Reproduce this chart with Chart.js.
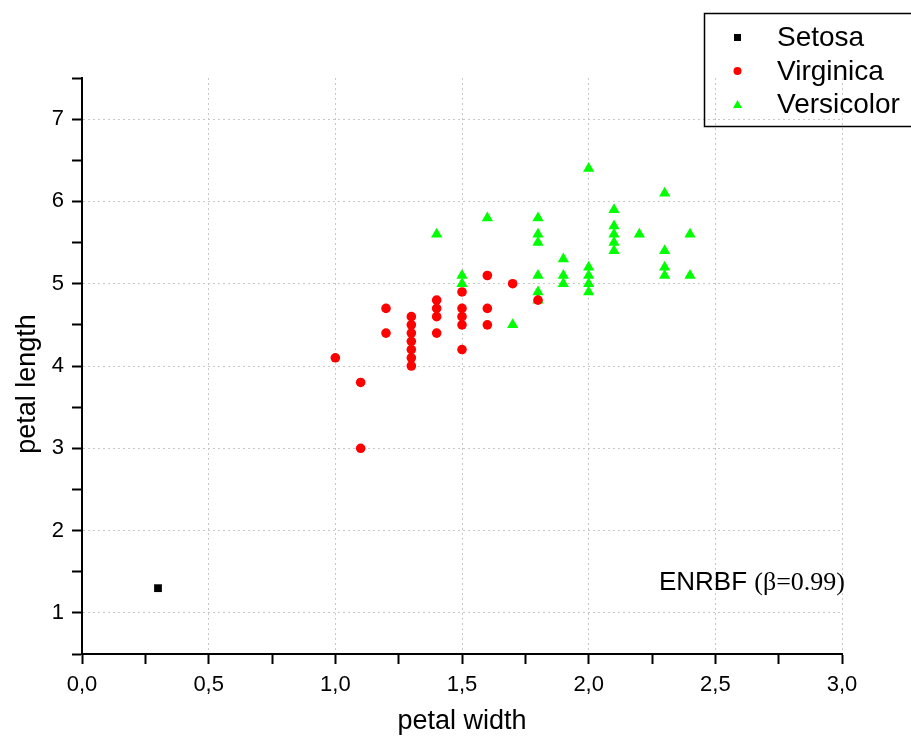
<!DOCTYPE html>
<html>
<head>
<meta charset="utf-8">
<script src="https://cdn.jsdelivr.net/npm/chart.js@4.4.0/dist/chart.umd.min.js"></script>
<style>
  html, body { margin: 0; padding: 0; background: #fff; }
  #myChart { display: block; }
</style>
</head>
<body>
<canvas id="myChart" width="911" height="740"></canvas>
<script>
// donnees (petal width / petal length)
var setosaW = [0.3];
var setosaL = [1.3];

var virginicaW = [1.0, 1.1, 1.1, 1.2, 1.2,
  1.3, 1.3, 1.3, 1.3, 1.3, 1.3, 1.3,
  1.4, 1.4, 1.4, 1.4,
  1.5, 1.5, 1.5, 1.5, 1.5,
  1.6, 1.6, 1.6, 1.7, 1.8];
var virginicaL = [4.1, 3.8, 3.0, 4.7, 4.4,
  4.0, 4.1, 4.2, 4.3, 4.4, 4.5, 4.6,
  4.4, 4.6, 4.7, 4.8,
  4.2, 4.5, 4.6, 4.7, 4.9,
  4.5, 4.7, 5.1, 5.0, 4.8];

var versicolorW = [1.4, 1.5, 1.5, 1.6, 1.7,
  1.8, 1.8, 1.8, 1.8, 1.8, 1.8,
  1.9, 1.9, 1.9,
  2.0, 2.0, 2.0, 2.0, 2.0,
  2.1, 2.1, 2.1, 2.1, 2.1,
  2.2, 2.3, 2.3, 2.3, 2.3, 2.4, 2.4];
var versicolorL = [5.6, 5.0, 5.1, 5.8, 4.5,
  4.8, 4.9, 5.1, 5.5, 5.6, 5.8,
  5.0, 5.1, 5.3,
  4.9, 5.0, 5.1, 5.2, 6.4,
  5.4, 5.5, 5.6, 5.7, 5.9,
  5.6, 5.1, 5.2, 5.4, 6.1, 5.1, 5.6];

var seriesNames = ['Setosa', 'Virginica', 'Versicolor'];
var annotationMain = 'ENRBF ';
var annotationParam = '(\u03b2=0.99)';
var xTitle = 'petal width';
var yTitle = 'petal length';

function toPoints(xs, ys) {
  return xs.map(function (x, i) { return { x: x, y: ys[i] }; });
}

function isMultiple(v, step) {
  var r = v / step;
  return Math.abs(r - Math.round(r)) < 1e-6;
}

var sansFont = '"Liberation Sans", Arial, sans-serif';
var serifFont = '"Liberation Serif", "Times New Roman", serif';

// legende, annotation et titre vertical dessines a la main
var extras = {
  id: 'extras',
  afterDraw: function (chart) {
    var c = chart.ctx;
    c.save();
    // boite de legende
    c.strokeStyle = '#000';
    c.lineWidth = 1.5;
    c.strokeRect(704.5, 13.5, 230, 113);
    c.fillStyle = '#000';
    c.font = '28px ' + sansFont;
    c.textBaseline = 'alphabetic';
    c.textAlign = 'left';
    var rows = [46, 80, 113];
    c.fillText(seriesNames[0], 777, rows[0]);
    c.fillText(seriesNames[1], 777, rows[1]);
    c.fillText(seriesNames[2], 777, rows[2]);
    // marqueurs
    c.fillStyle = '#000';
    c.fillRect(734, 34, 7, 7);
    c.fillStyle = '#ff0000';
    c.beginPath(); c.arc(737.5, 71, 4, 0, Math.PI * 2); c.fill();
    c.fillStyle = '#00ff00';
    c.beginPath(); c.moveTo(737.5, 100); c.lineTo(742, 108); c.lineTo(733, 108); c.closePath(); c.fill();

    // annotation ENRBF
    c.fillStyle = '#000';
    c.font = '26px ' + sansFont;
    var w1 = c.measureText(annotationMain).width;
    c.font = '26px ' + serifFont;
    var w2 = c.measureText(annotationParam).width;
    var x0 = 845 - w1 - w2;
    c.font = '26px ' + sansFont;
    c.fillText(annotationMain, x0, 590);
    c.font = '26px ' + serifFont;
    c.fillText(annotationParam, x0 + w1, 590);

    // titre axe y
    c.font = '27px ' + sansFont;
    c.textAlign = 'center';
    c.textBaseline = 'middle';
    c.translate(28, 384);
    c.rotate(-Math.PI / 2);
    c.fillText(yTitle, 0, 0);
    c.restore();
  }
};

const ctx = document.getElementById('myChart').getContext('2d');

const config = {
  type: 'scatter',
  data: {
    datasets: [{
      label: seriesNames[0],
      data: toPoints(setosaW, setosaL),
      pointStyle: 'rect',
      pointRadius: 5.5,
      backgroundColor: '#000',
      borderWidth: 0
    }, {
      label: seriesNames[1],
      data: toPoints(virginicaW, virginicaL),
      pointStyle: 'circle',
      pointRadius: 4.8,
      backgroundColor: '#ff0000',
      borderWidth: 0
    }, {
      label: seriesNames[2],
      data: toPoints(versicolorW, versicolorL),
      pointStyle: 'triangle',
      pointRadius: 6.5,
      backgroundColor: '#00ff00',
      borderWidth: 0
    }]
  },
  options: {
    responsive: false,
    animation: false,
    devicePixelRatio: 1,
    layout: { padding: { top: 78, right: 69, left: 0, bottom: 0 } },
    plugins: {
      legend: { display: false },
      tooltip: { enabled: false }
    },
    scales: {
      x: {
        type: 'linear',
        min: 0,
        max: 3,
        afterFit: function (s) { s.height = 86; },
        ticks: {
          stepSize: 0.25,
          autoSkip: false,
          maxRotation: 0,
          color: '#000',
          padding: 8,
          font: { family: sansFont, size: 22 },
          callback: function (v) {
            return isMultiple(v, 0.5) ? v.toFixed(1).replace('.', ',') : '';
          }
        },
        grid: {
          color: function (c) {
            var v = c.tick ? c.tick.value : 0;
            return (isMultiple(v, 0.5) && v > 0) ? '#c8c8c8' : 'rgba(0,0,0,0)';
          },
          lineWidth: 1,
          tickColor: '#000',
          tickLength: 10,
          tickWidth: 2
        },
        border: { color: '#000', width: 2, dash: [2, 3] },
        title: {
          display: true,
          text: xTitle,
          color: '#000',
          font: { family: sansFont, size: 27 },
          padding: { top: 0, bottom: 2 }
        }
      },
      y: {
        type: 'linear',
        min: 0.5,
        max: 7.5,
        afterFit: function (s) { s.width = 82; },
        ticks: {
          stepSize: 0.5,
          autoSkip: false,
          color: '#000',
          padding: 8,
          font: { family: sansFont, size: 22 },
          callback: function (v) {
            return isMultiple(v, 1) ? String(v) : '';
          }
        },
        grid: {
          color: function (c) {
            var v = c.tick ? c.tick.value : 0;
            return (isMultiple(v, 1)) ? '#c8c8c8' : 'rgba(0,0,0,0)';
          },
          lineWidth: 1,
          tickColor: '#000',
          tickLength: 10,
          tickWidth: 2
        },
        border: { color: '#000', width: 2, dash: [2, 3] }
      }
    }
  },
  plugins: [extras]
};

const chart = new Chart(ctx, config);
</script>
</body>
</html>
